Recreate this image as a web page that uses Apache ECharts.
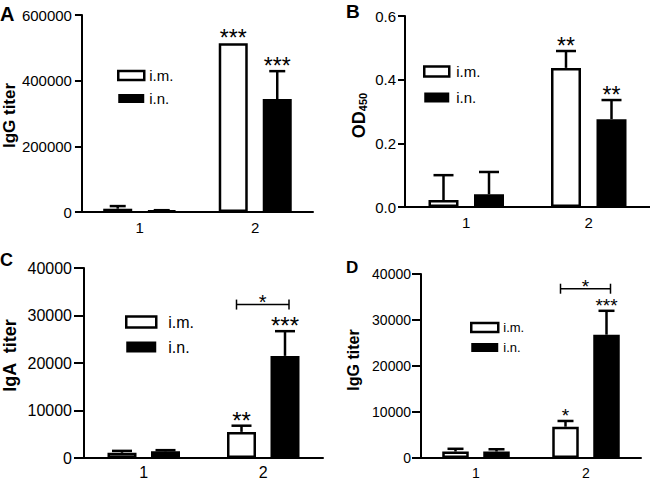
<!DOCTYPE html>
<html>
<head>
<meta charset="utf-8">
<script src="https://cdn.jsdelivr.net/npm/echarts@6/dist/echarts.min.js"></script>
<style>
html, body { margin: 0; padding: 0; background: #fff; }
#chart { width: 650px; height: 480px; }
</style>
</head>
<body>
<div id="chart"></div>
<script>
// 分组
const categories = ["1", "2"];

// A: IgG titer
const aImValues = [10000, 514000];
const aImErr = [8000, 0];
const aInValues = [4000, 344000];
const aInErr = [1500, 85000];
const aImStars = ["", "***"];
const aInStars = ["", "***"];

// B: OD450
const bImValues = [0.022, 0.437];
const bImErr = [0.078, 0.053];
const bInValues = [0.04, 0.276];
const bInErr = [0.07, 0.06];
const bImStars = ["", "**"];
const bInStars = ["", "**"];

// C: IgA titer
const cImValues = [1100, 5500];
const cImErr = [400, 1300];
const cInValues = [1400, 21500];
const cInErr = [250, 5200];
const cImStars = ["", "**"];
const cInStars = ["", "***"];
const cBracket = [32300];

// D: IgG titer
const dImValues = [1400, 6800];
const dImErr = [600, 1250];
const dInValues = [1400, 26800];
const dInErr = [500, 5200];
const dImStars = ["", "*"];
const dInStars = ["", "***"];
const dBracket = [36800];

// 坐标轴范围
const yMax = [600000, 0.6, 40000, 40000];
const yInterval = [200000, 0.2, 10000, 10000];

const FONT = "'Liberation Sans', Arial, Helvetica, sans-serif";

// 每个面板的布局
const panels = [
	{
		letter: "A", letterPos: { left: 0, top: 4 }, letterSize: 20,
		grid: { left: 81, top: 15, width: 232, height: 197 },
		im: aImValues, imErr: aImErr, inn: aInValues, inErr: aInErr, imStars: aImStars, inStars: aInStars,
		barWidth: 29, gap: 15, cap: 16, starSize: 23,
		yName: "IgG titer", nameSize: 17, nameGap: 61, namePad: [0, 4, 0, 0],
		tickSize: 15, tickLen: 7, labelMargin: 10, xMargin: 8,
		legend: { left: 117, top: 68, itemWidth: 26, itemHeight: 9, itemGap: 8, fontSize: 15, textPad: 0 },
		labelFmt: (v) => String(v),
	},
	{
		letter: "B", letterPos: { left: 346, top: 2 }, letterSize: 19,
		grid: { left: 405, top: 16, width: 245, height: 191 },
		im: bImValues, imErr: bImErr, inn: bInValues, inErr: bInErr, imStars: bImStars, inStars: bInStars,
		barWidth: 30, gap: 15.5, cap: 20, starSize: 23,
		yName: "{a|OD}{b|450}", nameSize: 18, nameGap: 37, namePad: [0, 8, 0, 0],
		tickSize: 15, tickLen: 7, labelMargin: 9, xMargin: 8,
		legend: { left: 423, top: 64, itemWidth: 25, itemHeight: 10, itemGap: 11, fontSize: 15, textPad: 2 },
		labelFmt: (v) => v.toFixed(1),
	},
	{
		letter: "C", letterPos: { left: 0, top: 251 }, letterSize: 18,
		grid: { left: 84, top: 268, width: 239, height: 190 },
		im: cImValues, imErr: cImErr, inn: cInValues, inErr: cInErr, imStars: cImStars, inStars: cInStars,
		bracket: cBracket, bracketStar: 20,
		barWidth: 29, gap: 14.5, cap: 20, starSize: 24,
		yName: "IgA  titer", nameSize: 18, nameGap: 65, namePad: [0, 0, 0, 15],
		tickSize: 16, tickLen: 10, labelMargin: 12, xMargin: 6,
		legend: { left: 125, top: 314, itemWidth: 30, itemHeight: 11, itemGap: 9, fontSize: 16, textPad: 7 },
		labelFmt: (v) => String(v),
	},
	{
		letter: "D", letterPos: { left: 346, top: 259 }, letterSize: 17,
		grid: { left: 421, top: 274, width: 220, height: 184 },
		im: dImValues, imErr: dImErr, inn: dInValues, inErr: dInErr, imStars: dImStars, inStars: dInStars,
		bracket: dBracket, bracketStar: 19,
		barWidth: 26.5, gap: 14.5, cap: 16, starSize: 19,
		yName: "IgG titer", nameSize: 16, nameGap: 60, namePad: [0, 0, 0, 12],
		tickSize: 14, tickLen: 9, labelMargin: 10, xMargin: 8,
		legend: { left: 470, top: 321, itemWidth: 27, itemHeight: 9, itemGap: 7, fontSize: 13, textPad: 0 },
		labelFmt: (v) => String(v),
	},
];

// 误差线 + 显著性星号
function errorSeries(idx, p, values, errs, stars, side) {
	const offset = (p.barWidth + p.gap) / 2;
	return {
		type: "custom",
		xAxisIndex: idx,
		yAxisIndex: idx,
		z: 5,
		silent: true,
		data: values.map((v, i) => [i, v, errs[i]]),
		renderItem: function (params, api) {
			const cat = api.value(0);
			const v = api.value(1);
			const e = api.value(2);
			const base = api.coord([cat, v]);
			const x = base[0] + side * offset;
			const yTop = api.coord([cat, v + e])[1];
			const children = [];
			if (e > 0) {
				children.push({
					type: "line",
					shape: { x1: x, y1: base[1], x2: x, y2: yTop },
					style: { stroke: "#000", lineWidth: 2.5 },
				});
				children.push({
					type: "line",
					shape: { x1: x - p.cap / 2, y1: yTop, x2: x + p.cap / 2, y2: yTop },
					style: { stroke: "#000", lineWidth: 2.5 },
				});
			}
			const star = stars[params.dataIndex];
			if (star) {
				children.push({
					type: "text",
					style: {
						text: star, x: x, y: yTop - 5 + 0.48 * p.starSize,
						align: "center", verticalAlign: "bottom",
						fill: "#000", fontSize: p.starSize, fontFamily: FONT,
					},
				});
			}
			return { type: "group", children: children };
		},
	};
}

// 组间比较的括号
function bracketSeries(idx, p) {
	const offset = (p.barWidth + p.gap) / 2;
	return {
		type: "custom",
		xAxisIndex: idx,
		yAxisIndex: idx,
		z: 5,
		silent: true,
		data: p.bracket.map((v) => [1, v]),
		renderItem: function (params, api) {
			const c = api.coord([api.value(0), api.value(1)]);
			const x1 = c[0] - offset - 5;
			const x2 = c[0] + offset + 4;
			const y = c[1];
			const st = { stroke: "#000", lineWidth: 1.5 };
			return {
				type: "group",
				children: [
					{ type: "line", shape: { x1: x1, y1: y, x2: x2, y2: y }, style: st },
					{ type: "line", shape: { x1: x1, y1: y - 5, x2: x1, y2: y + 5 }, style: st },
					{ type: "line", shape: { x1: x2, y1: y - 5, x2: x2, y2: y + 5 }, style: st },
					{
						type: "text",
						style: {
							text: "*", x: (x1 + x2) / 2, y: y - 2 + 0.48 * p.bracketStar,
							align: "center", verticalAlign: "bottom",
							fill: "#000", fontSize: p.bracketStar, fontFamily: FONT,
						},
					},
				],
			};
		},
	};
}

const option = {
	animation: false,
	backgroundColor: "#fff",
	textStyle: { fontFamily: FONT, color: "#000" },
	title: [],
	grid: [],
	xAxis: [],
	yAxis: [],
	legend: [],
	series: [],
};

panels.forEach((p, idx) => {
	option.title.push({
		text: p.letter,
		left: p.letterPos.left,
		top: p.letterPos.top,
		padding: 0,
		textStyle: { fontSize: p.letterSize, fontWeight: "bold", color: "#000", fontFamily: FONT },
	});
	option.grid.push(Object.assign({ containLabel: false }, p.grid));
	option.xAxis.push({
		type: "category",
		gridIndex: idx,
		data: categories,
		axisLine: { lineStyle: { color: "#000", width: 2 } },
		axisTick: { show: false },
		axisLabel: { color: "#000", fontSize: p.tickSize, margin: p.xMargin, fontFamily: FONT },
	});
	option.yAxis.push({
		type: "value",
		gridIndex: idx,
		min: 0,
		max: yMax[idx],
		interval: yInterval[idx],
		name: p.yName,
		nameLocation: "middle",
		nameGap: p.nameGap,
		nameTextStyle: {
			fontSize: p.nameSize, fontWeight: "bold", color: "#000", fontFamily: FONT,
			padding: p.namePad,
			rich: {
				a: { fontSize: p.nameSize, fontWeight: "bold", fontFamily: FONT },
				b: { fontSize: 11, fontWeight: "bold", fontFamily: FONT, padding: [8, 0, 0, 0] },
			},
		},
		splitLine: { show: false },
		axisLine: { show: true, lineStyle: { color: "#000", width: 2 } },
		axisTick: { show: true, length: p.tickLen, lineStyle: { color: "#000", width: 2 } },
		axisLabel: { color: "#000", fontSize: p.tickSize, margin: p.labelMargin, fontFamily: FONT, formatter: p.labelFmt },
	});
	option.legend.push({
		orient: "vertical",
		left: p.legend.left,
		top: p.legend.top,
		padding: 0,
		itemWidth: p.legend.itemWidth,
		itemHeight: p.legend.itemHeight,
		itemGap: p.legend.itemGap,
		selectedMode: false,
		icon: "rect",
		textStyle: { fontSize: p.legend.fontSize, color: "#000", fontFamily: FONT, padding: [0, 0, 0, p.legend.textPad] },
		data: [
			{ name: "i.m.", itemStyle: { color: "#fff", borderColor: "#000", borderWidth: 2.5 } },
			{ name: "i.n.", itemStyle: { color: "#000", borderColor: "#000", borderWidth: 0 } },
		],
	});
	const barGap = (p.gap / p.barWidth) * 100 + "%";
	option.series.push({
		name: "i.m.",
		type: "bar",
		xAxisIndex: idx,
		yAxisIndex: idx,
		barWidth: p.barWidth,
		barGap: barGap,
		data: p.im,
		itemStyle: { color: "#fff", borderColor: "#000", borderWidth: 2.5 },
	});
	option.series.push({
		name: "i.n.",
		type: "bar",
		xAxisIndex: idx,
		yAxisIndex: idx,
		barWidth: p.barWidth,
		barGap: barGap,
		data: p.inn,
		itemStyle: { color: "#000", borderColor: "#000", borderWidth: 2.5 },
	});
	option.series.push(errorSeries(idx, p, p.im, p.imErr, p.imStars, -1));
	option.series.push(errorSeries(idx, p, p.inn, p.inErr, p.inStars, 1));
	if (p.bracket) option.series.push(bracketSeries(idx, p));
});

const chart = echarts.init(document.getElementById("chart"), null, { renderer: "svg" });
chart.setOption(option);
window.addEventListener("resize", () => chart.resize());
</script>
</body>
</html>
